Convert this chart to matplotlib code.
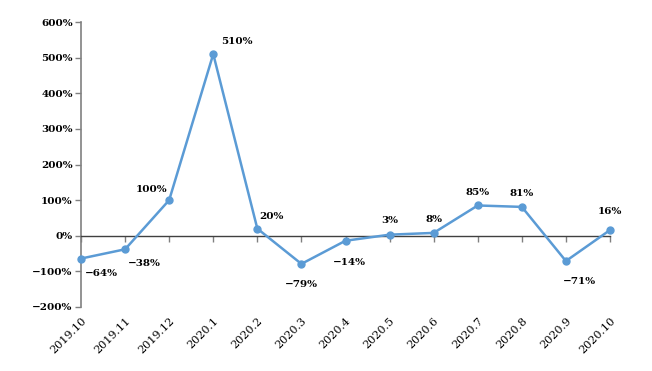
import matplotlib
matplotlib.use("Agg")
import matplotlib.pyplot as plt
from matplotlib.ticker import FuncFormatter

months = ["2019.10", "2019.11", "2019.12", "2020.1", "2020.2", "2020.3", "2020.4",
          "2020.5", "2020.6", "2020.7", "2020.8", "2020.9", "2020.10"]
values = [-64, -38, 100, 510, 20, -79, -14, 3, 8, 85, 81, -71, 16]
# label placement: (dx, dy) offsets in points
label_pos = [(15, -11), (14, -10), (-13, 8), (17, 9), (10, 9), (0, -15), (3, -16),
             (0, 10), (0, 10), (0, 9), (0, 10), (10, -15), (0, 13)]

plt.rcParams['font.family'] = ['DejaVu Serif']
fig = plt.figure(figsize=(6.52, 3.71), dpi=100)
ax = fig.add_axes([81/652, 1-307/371, (610-81)/652, (307-22)/371])

x = list(range(len(months)))
ax.plot(x, values, color='#5B9BD5', lw=1.8, marker='o', ms=5, zorder=3, clip_on=False)

for xi, v, (dx, dy) in zip(x, values, label_pos):
    ax.annotate(f"{v}%".replace('-', '\u2212'), (xi, v), xytext=(dx, dy),
                textcoords='offset points', ha='center', va='center',
                fontsize=7.5, fontweight='bold')

ax.set_xlim(0, 12)
ax.set_ylim(-200, 600)
ax.set_yticks(range(-200, 601, 100))
ax.yaxis.set_major_formatter(FuncFormatter(lambda v, p: f"{int(v)}%".replace('-', '\u2212')))
for lab in ax.get_yticklabels():
    lab.set_fontweight('bold')
ax.tick_params(axis='y', labelsize=7.5, length=4, color='#808080', width=1, pad=2)

for s in ['top', 'right']:
    ax.spines[s].set_visible(False)
ax.spines['left'].set_color('#808080')
ax.spines['left'].set_linewidth(1.2)
ax.spines['bottom'].set_position(('data', 0))
ax.spines['bottom'].set_color('#404040')
ax.spines['bottom'].set_linewidth(1)
ax.set_xticks(x)
ax.tick_params(axis='x', labelbottom=False, length=4, color='#808080', width=1)

sec = ax.secondary_xaxis('bottom')
sec.set_xticks(x)
sec.set_xticklabels(months, rotation=45, ha='right', rotation_mode='anchor', fontsize=8)
sec.tick_params(length=0, pad=6)
sec.spines['bottom'].set_visible(False)

fig.savefig("out.png", dpi=100)
